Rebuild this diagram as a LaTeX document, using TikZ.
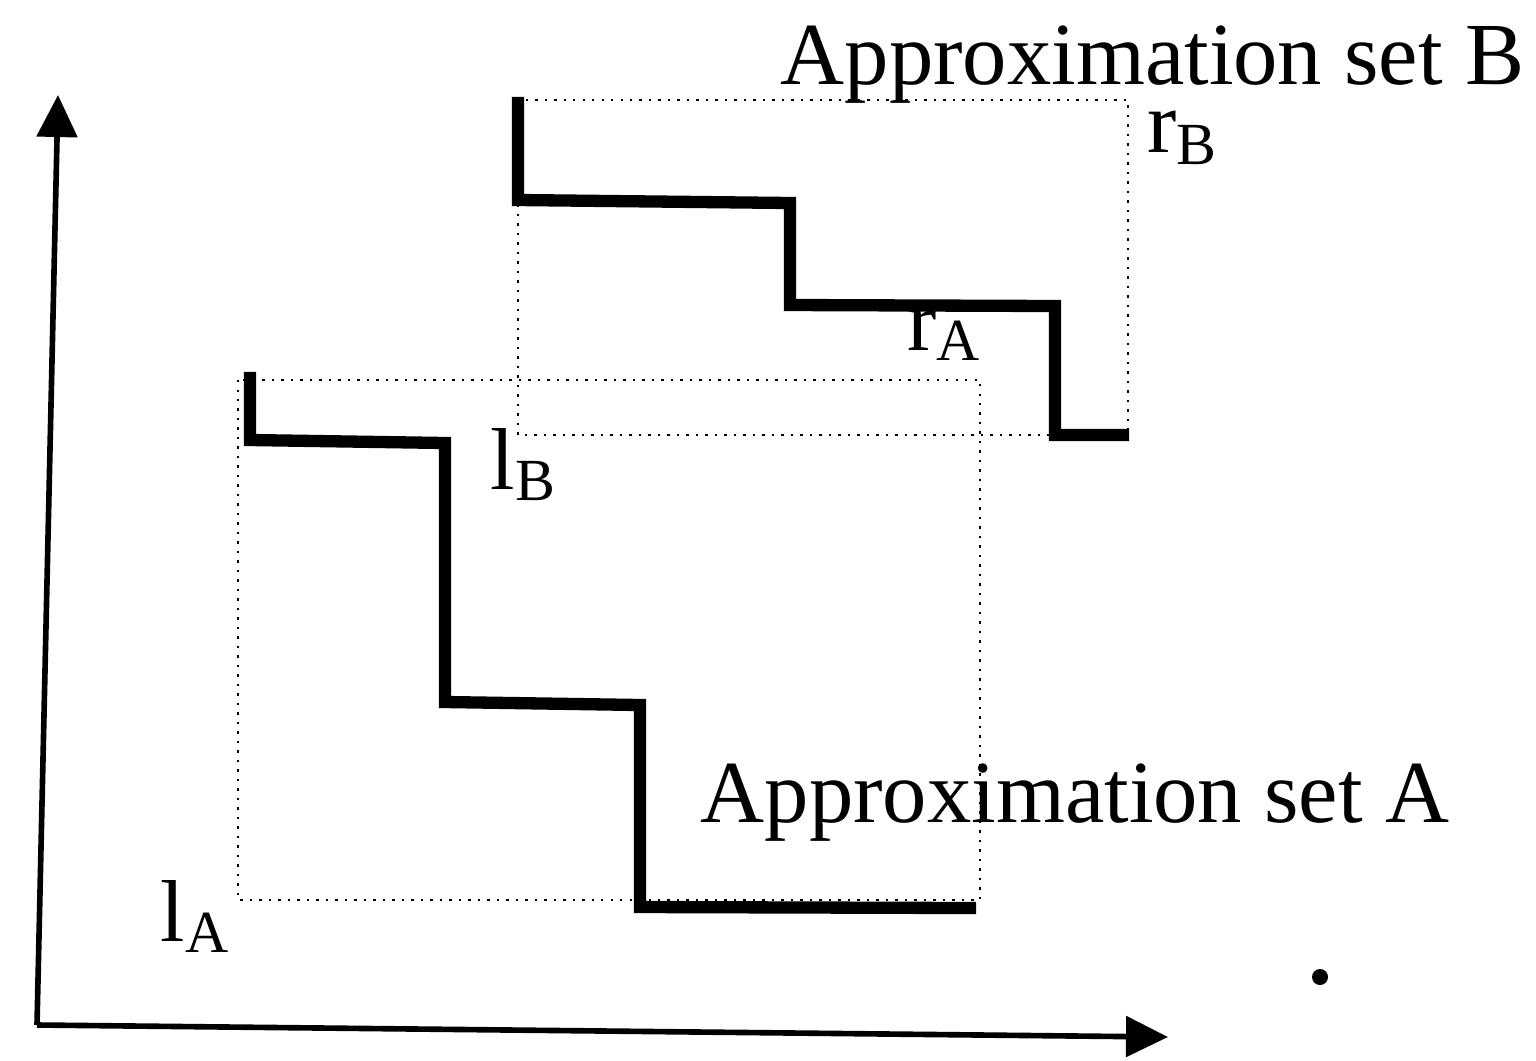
\documentclass[tikz,border=0pt]{standalone}
\usepackage{fontspec}
\setmainfont{Liberation Serif}
\usetikzlibrary{arrows.meta}
\newcommand{\sublab}[3]{{\fontsize{25}{25}\selectfont #1}\raisebox{-#3}{\fontsize{17}{17}\selectfont #2}}
\tikzset{
  front/.style={line width=3.5pt, line join=miter, line cap=rect},
  box/.style={line width=0.7pt, dotted},
  axis/.style={line width=1.6pt, -{Triangle[length=0.42cm,width=0.4cm]}},
  title/.style={anchor=base west, inner sep=0pt, font=\fontsize{25.2}{25}\selectfont},
  lab/.style={anchor=base west, inner sep=0pt}
}
\begin{document}
\begin{tikzpicture}[x=0.01cm, y=-0.01cm]
\useasboundingbox (0,0) rectangle (1536,1060);
% axes
\coordinate (O) at (37,1025);
\coordinate (Ytip) at (58,95);
\coordinate (Xtip) at (1168,1037);
\draw[axis] (O) -- (Ytip);
\draw[axis] (O) -- (Xtip);
% bounding boxes of the two sets
\draw[box] (238,380) rectangle (980,900);
\draw[box] (518,100) rectangle (1128,435);
% labels under the fronts
\node[lab] (rA) at (907,350) {\sublab{r}{A}{0.1cm}};
\node[lab] (rB) at (1147,152) {\sublab{r}{B}{0.12cm}};
\node[lab] (lB) at (490,489) {\sublab{l}{B}{0.11cm}};
\node[lab] (lA) at (160,941) {\sublab{l}{A}{0.11cm}};
% staircase fronts
\draw[front] (250,378) -- (250,440) -- (445,443) -- (445,702) -- (640,705) -- (640,907) -- (970,908);
\draw[front] (518,103) -- (518,200) -- (790,203) -- (790,305) -- (1055,306) -- (1055,435) -- (1123,435);
% titles
\node[title] (tB) at (780,84) {Approximation set B};
\node[title] (tA) at (700,822) {Approximation set A};
% stray dot
\fill (1320,977) circle (8);
\end{tikzpicture}
\end{document}
